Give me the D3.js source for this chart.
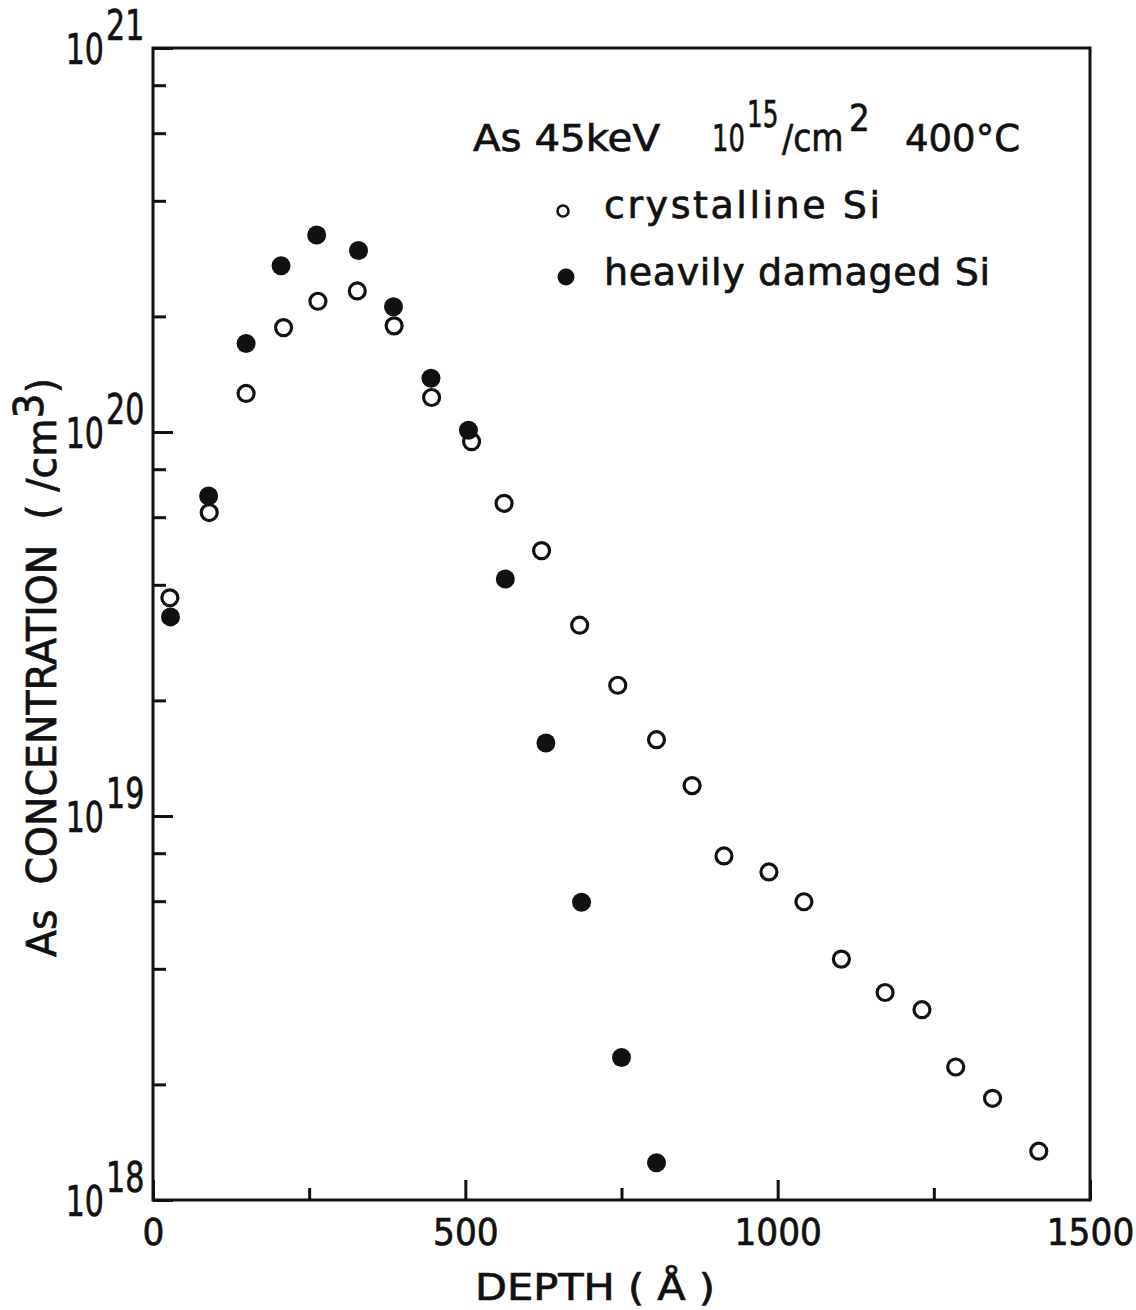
<!DOCTYPE html>
<html>
<head>
<meta charset="utf-8">
<script src="https://cdn.jsdelivr.net/npm/d3@7"></script>
<style>
  html, body { margin: 0; padding: 0; background: #fff; }
  svg { display: block; }
  text { font-family: "DejaVu Sans", sans-serif; fill: #111; stroke: #111; stroke-width: 0.7px; white-space: pre; }
</style>
</head>
<body>
<svg id="chart" width="1136" height="1310"></svg>
<script>
// Depth profiles of As implanted at 45 keV, 1e15 /cm2, 400 °C
const depthCrystalline = [27, 90, 149, 209, 264, 327, 386, 446, 510, 562, 622, 683,
                          744, 806, 863, 914, 986, 1042, 1102, 1172, 1231, 1285, 1344, 1418];
const concCrystalline  = [3.70e19, 6.17e19, 1.26e20, 1.87e20, 2.19e20, 2.33e20, 1.89e20, 1.23e20,
                          9.44e19, 6.52e19, 4.91e19, 3.14e19, 2.19e19, 1.58e19, 1.20e19, 7.87e18,
                          7.15e18, 5.98e18, 4.24e18, 3.47e18, 3.13e18, 2.22e18, 1.84e18, 1.34e18];
const depthDamaged = [28, 89, 149, 205, 262, 329, 385, 445, 505, 564, 629, 686, 750, 806];
const concDamaged  = [3.30e19, 6.81e19, 1.70e20, 2.71e20, 3.26e20, 2.97e20, 2.12e20, 1.38e20,
                      1.01e20, 4.14e19, 1.55e19, 5.96e18, 2.35e18, 1.25e18];

const xMajorTicks = [0, 500, 1000, 1500];
const xMinorTicks = [250, 750, 1250];
const yExponents  = [18, 19, 20, 21];
const yMinorMantissas = [2, 4, 6, 8];

const svg = d3.select("#chart");
const plotLeft = 153, plotRight = 1090, plotTop = 48, plotBottom = 1200;

const x = d3.scaleLinear().domain([0, 1500]).range([plotLeft, plotRight]);
const y = d3.scaleLog().domain([1e18, 1e21]).range([plotBottom, plotTop]);

const ink = "#111";

// text helper with optional horizontal compression
function label(g, str, px, py, size, anchor, sx, extra) {
  const t = g.append("text")
    .attr("transform", `translate(${px},${py}) scale(${sx},1)`)
    .attr("text-anchor", anchor)
    .attr("font-size", size)
    .text(str);
  if (extra) extra(t);
  return t;
}

// frame
svg.append("rect")
  .attr("x", plotLeft).attr("y", plotTop)
  .attr("width", plotRight - plotLeft).attr("height", plotBottom - plotTop)
  .attr("fill", "none").attr("stroke", ink).attr("stroke-width", 3);

// x axis: major and minor ticks pointing inward
const xMajorAxis = d3.axisBottom(x).tickValues(xMajorTicks).tickSizeInner(-20).tickSizeOuter(0).tickFormat(() => "");
const xMinorAxis = d3.axisBottom(x).tickValues(xMinorTicks).tickSizeInner(-12).tickSizeOuter(0).tickFormat(() => "");
const gxMaj = svg.append("g").attr("transform", `translate(0,${plotBottom})`).call(xMajorAxis);
svg.append("g").attr("transform", `translate(0,${plotBottom})`).call(xMinorAxis);
gxMaj.selectAll(".tick").each(function(d) {
  label(d3.select(this), String(d), 0, 45, 37, "middle", 0.93);
});

// y axis: decades and 2,4,6,8 minors
const yMinorTicks = [];
yExponents.slice(0, -1).forEach(e => yMinorMantissas.forEach(m => yMinorTicks.push(m * Math.pow(10, e))));
const yMajorAxis = d3.axisLeft(y).tickValues(yExponents.map(e => Math.pow(10, e))).tickSizeInner(-20).tickSizeOuter(0).tickFormat(() => "");
const yMinorAxis = d3.axisLeft(y).tickValues(yMinorTicks).tickSizeInner(-13).tickSizeOuter(0).tickFormat(() => "");
const gyMaj = svg.append("g").attr("transform", `translate(${plotLeft},0)`).call(yMajorAxis);
svg.append("g").attr("transform", `translate(${plotLeft},0)`).call(yMinorAxis);
gyMaj.selectAll(".tick").each(function(d, i) {
  const g = d3.select(this);
  const t = g.append("text")
    .attr("transform", "scale(0.7,1)")
    .attr("font-size", 43);
  t.append("tspan").attr("x", -49 / 0.7).attr("y", 15).attr("text-anchor", "end").text("10");
  t.append("tspan").attr("x", -47 / 0.7).attr("y", -9).attr("text-anchor", "start").text(String(yExponents[i]));
});

svg.selectAll(".domain").remove();
svg.selectAll(".tick line").attr("stroke", ink).attr("stroke-width", 3);

// axis titles
label(svg, "DEPTH ( Å )", 475, 1300, 38, "start", 1, t => t.attr("textLength", 240).attr("lengthAdjust", "spacingAndGlyphs"));

const yt = svg.append("text")
  .attr("transform", "translate(56,957) rotate(-90)")
  .attr("font-size", 41)
  .attr("textLength", 579)
  .attr("lengthAdjust", "spacingAndGlyphs");
yt.append("tspan").text("As  CONCENTRATION  ( /cm");
yt.append("tspan").attr("dy", -13).text("3");
yt.append("tspan").attr("dy", 13).text(")");

// annotation line: implant species, energy, dose, temperature
label(svg, "As 45keV", 473, 151, 38, "start", 1, t => t.attr("textLength", 187).attr("lengthAdjust", "spacingAndGlyphs"));
label(svg, "10", 712, 151, 38, "start", 0.68);
label(svg, "15", 747, 127, 38, "start", 0.65);
label(svg, "/cm", 782, 151, 38, "start", 0.87);
label(svg, "2", 849, 131, 38, "start", 0.86);
label(svg, "400°C", 905, 151, 38, "start", 1, t => t.attr("textLength", 115).attr("lengthAdjust", "spacingAndGlyphs"));

// legend
svg.append("circle").attr("cx", 563).attr("cy", 211).attr("r", 5.5)
  .attr("fill", "none").attr("stroke", ink).attr("stroke-width", 2.6);
svg.append("circle").attr("cx", 566).attr("cy", 277).attr("r", 8.5).attr("fill", ink);
label(svg, "crystalline Si", 604, 218, 38, "start", 1, t => t.attr("textLength", 276).attr("lengthAdjust", "spacing"));
label(svg, "heavily damaged Si", 604, 285, 38, "start", 1, t => t.attr("textLength", 386).attr("lengthAdjust", "spacing"));

// data points
svg.append("g").selectAll("circle")
  .data(d3.zip(depthDamaged, concDamaged))
  .join("circle")
  .attr("cx", d => x(d[0])).attr("cy", d => y(d[1]))
  .attr("r", 9.5).attr("fill", ink);

svg.append("g").selectAll("circle")
  .data(d3.zip(depthCrystalline, concCrystalline))
  .join("circle")
  .attr("cx", d => x(d[0])).attr("cy", d => y(d[1]))
  .attr("r", 8).attr("fill", "none").attr("stroke", ink).attr("stroke-width", 3.2);
</script>
</body>
</html>
